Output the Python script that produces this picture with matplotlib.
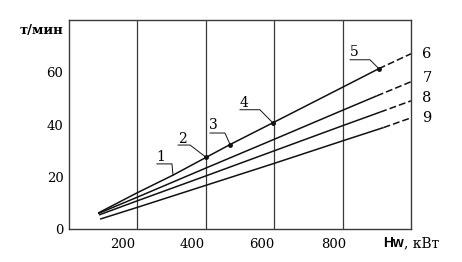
import numpy as np
import matplotlib.pyplot as plt

# Curves 6..9 (solid part + dashed extension)
x6 = [85, 200, 304, 401, 471, 596, 800, 906]
y6 = [6.2, 14.0, 20.7, 27.5, 32.4, 40.7, 54.3, 61.4]
x6d = [906, 1000]
y6d = [61.4, 67.1]

x7 = [85, 200, 400, 600, 800, 900]
y7 = [6.0, 12.3, 23.4, 34.4, 45.5, 51.0]
x7d = [900, 1000]
y7d = [51.0, 56.4]

x8 = [88, 200, 400, 600, 800, 910]
y8 = [5.5, 10.9, 20.4, 30.0, 39.6, 44.8]
x8d = [910, 1000]
y8d = [44.8, 49.1]

x9 = [91, 200, 400, 600, 800, 920]
y9 = [3.9, 8.4, 16.8, 25.2, 33.8, 38.9]
x9d = [920, 1000]
y9d = [38.9, 42.6]

# Point labels 1..5 on the top curve: label pos, underline span, target point
pt_names = ["1", "2", "3", "4", "5"]
pt_text_x = [269, 333, 421, 512, 833]
pt_text_y = [27.8, 34.6, 39.9, 48.3, 67.9]
ul_x0 = [257, 319, 412, 500, 822]
ul_x1 = [301, 354, 456, 558, 880]
ul_y = [25.0, 32.2, 36.8, 45.7, 64.8]
pt_x = [304, 401, 471, 596, 906]
pt_y = [20.7, 27.5, 32.4, 40.7, 61.4]

end_names = ["6", "7", "8", "9"]
end_y = [67.1, 57.9, 50.3, 42.6]

grid_x = [200, 400, 600, 800]
grid_y = [20, 40, 60]
xlab_pos = [156, 361, 563, 775]
xlab = ["200", "400", "600", "800"]
ylab_pos = [0, 20, 40, 60]
ylab = ["0", "20", "40", "60"]

serif = ["DejaVu Serif"]
plt.rcParams['font.family'] = serif

fig = plt.figure(figsize=(4.62, 2.62), dpi=100)
ax = fig.add_axes([0.1494, 0.1248, 0.7402, 0.7989])
ax.set_xlim(0, 1000)
ax.set_ylim(0, 80)

gc = "#3a3a3a"
for s in ax.spines.values():
    s.set_color(gc)
    s.set_linewidth(1.0)

ax.set_xticks(grid_x, minor=True)
ax.set_yticks(grid_y, minor=True)
ax.grid(which='minor', color=gc, linewidth=0.9)
ax.set_xticks(xlab_pos)
ax.set_xticklabels(xlab)
ax.set_yticks(ylab_pos)
ax.set_yticklabels(ylab)
ax.tick_params(which='both', length=0)
ax.tick_params(axis='x', pad=6, labelsize=9.5)
ax.tick_params(axis='y', pad=4, labelsize=9.5)

lc = "#111111"
for xs, ys, xd, yd in [(x6, y6, x6d, y6d), (x7, y7, x7d, y7d),
                       (x8, y8, x8d, y8d), (x9, y9, x9d, y9d)]:
    ax.plot(xs, ys, color=lc, linewidth=1.1, solid_capstyle='butt')
    ax.plot(xd, yd, color=lc, linewidth=1.1, dashes=(4.5, 2.0), clip_on=False)

# leader lines with labels
for i in range(len(pt_names)):
    ax.plot([ul_x0[i], ul_x1[i], pt_x[i]], [ul_y[i], ul_y[i], pt_y[i]],
            color=lc, linewidth=0.7)
    ax.text(pt_text_x[i], pt_text_y[i], pt_names[i], fontsize=10,
            ha='center', va='center')
ax.plot(pt_x[1:], pt_y[1:], 'o', color=lc, markersize=2.5)

for n, y in zip(end_names, end_y):
    ax.text(1047, y, n, fontsize=10.5, ha='center', va='center', clip_on=False)

ax.text(-17, 76, "т/мин", fontsize=9.5, ha='right', va='center',
        fontweight='bold', clip_on=False)
ax.text(918, -5.2, "Hw", fontsize=10, ha='left', va='center',
        family=["Liberation Sans", "DejaVu Sans"], fontweight='bold', clip_on=False)
ax.text(979, -5.2, ", кВт", fontsize=10, ha='left', va='center', clip_on=False)

fig.savefig("out.png", dpi=100)
